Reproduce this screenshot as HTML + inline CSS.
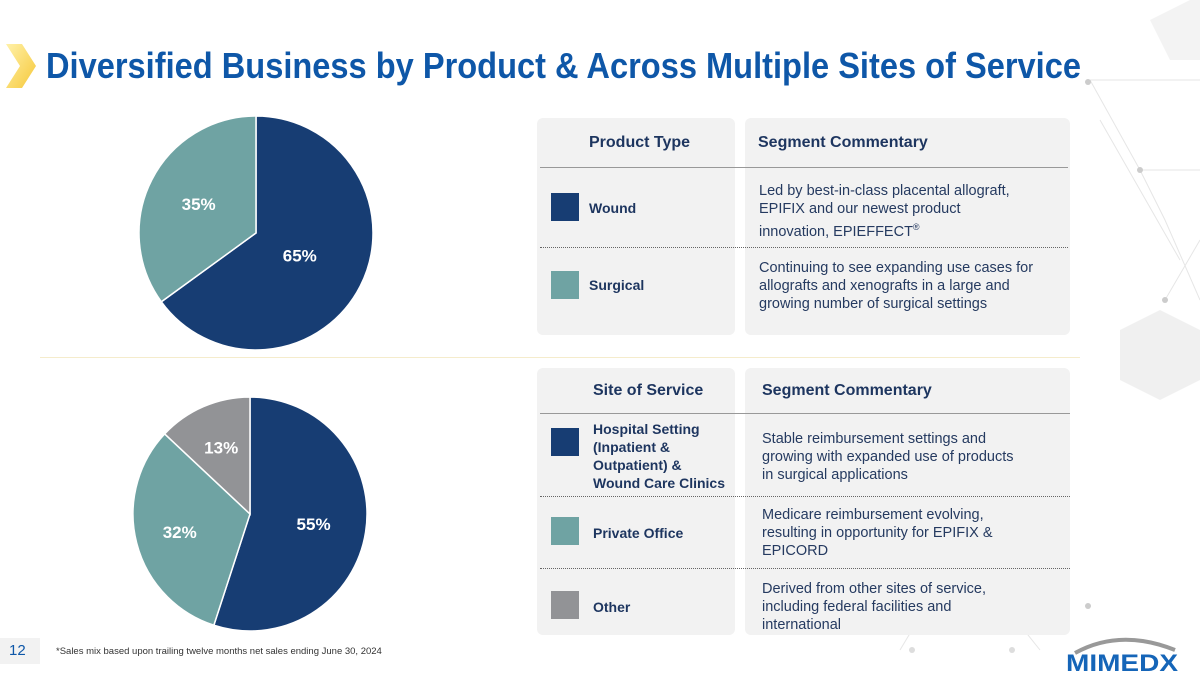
<!DOCTYPE html>
<html><head><meta charset="utf-8"><style>
body{margin:0;width:1200px;height:675px;background:#fff;position:relative;overflow:hidden;font-family:"Liberation Sans",sans-serif;color:#1d355f}
.abs{position:absolute}
.panel{position:absolute;background:#f2f2f2;border-radius:6px}
.h{position:absolute;font-weight:bold;font-size:16px;color:#1d355f}
.t{position:absolute;font-size:14.5px;line-height:18px;color:#253a60}
.sq{position:absolute;width:28px;height:28px}
.lbl{position:absolute;font-weight:bold;font-size:14px;line-height:18px;color:#1d355f}
.line{position:absolute;height:0;border-top:1px solid #999}
.dot{position:absolute;height:0;border-top:1px dotted #666}
</style></head><body>
<svg class="abs" style="left:0;top:0" width="1200" height="675">
<g stroke="#e6e6e6" fill="none" stroke-width="1">
<path d="M1090 80 L1140 170 L1200 170 M1140 170 L1165 220 L1200 300 M1090 80 L1200 80 M1165 300 L1200 240 M1100 120 L1180 260"/>
<path d="M900 650 L930 600 L1000 600 L1040 650 M1000 600 L1040 560"/>
</g>
<polygon points="1150,20 1190,0 1200,0 1200,60 1170,60" fill="#f3f3f3"/>
<polygon points="1120,330 1160,310 1200,330 1200,380 1160,400 1120,380" fill="#f0f0f0"/>
<circle cx="1088" cy="82" r="3" fill="#ccc"/><circle cx="1140" cy="170" r="3" fill="#ccc"/>
<circle cx="1165" cy="300" r="3" fill="#ccc"/><circle cx="1088" cy="606" r="3" fill="#ccc"/>
<circle cx="912" cy="650" r="3" fill="#ddd"/><circle cx="1012" cy="650" r="3" fill="#ddd"/>
</svg>
<svg class="abs" style="left:6;top:44px;left:6px" width="36" height="44">
<defs><linearGradient id="g" x1="0" y1="0" x2="1" y2="1"><stop offset="0" stop-color="#fff1a8"/><stop offset="1" stop-color="#f6c83a"/></linearGradient></defs>
<polygon points="0,0 16,0 30,22 16,44 0,44 14,22" fill="url(#g)"/>
</svg>
<svg class="abs" style="left:46px;top:40px" width="1040" height="50">
<text x="0" y="38" font-family="Liberation Sans" font-weight="bold" font-size="36" fill="#0e57a8" textLength="1035" lengthAdjust="spacingAndGlyphs">Diversified Business by Product &amp; Across Multiple Sites of Service</text>
</svg>

<svg id="pies" class="abs" style="left:0;top:0" width="520" height="675"></svg>
<div class="abs" style="left:40px;top:357px;width:1040px;border-top:1px solid #f5eccc"></div>

<div class="panel" style="left:537px;top:118px;width:198px;height:217px"></div>
<div class="panel" style="left:745px;top:118px;width:325px;height:217px"></div>
<div class="h" style="left:589px;top:134px">Product Type</div>
<div class="h" style="left:758px;top:134px">Segment Commentary</div>
<div class="line" style="left:540px;top:167px;width:528px"></div>
<div class="sq" style="left:551px;top:193px;background:#173d73"></div>
<div class="lbl" style="left:589px;top:199px">Wound</div>
<div class="t" style="left:759px;top:182px">Led by best-in-class placental allograft,<br>EPIFIX and our newest product<br>innovation, EPIEFFECT<sup style="font-size:9px">®</sup></div>
<div class="dot" style="left:540px;top:247px;width:528px"></div>
<div class="sq" style="left:551px;top:271px;background:#6fa3a3"></div>
<div class="lbl" style="left:589px;top:276px">Surgical</div>
<div class="t" style="left:759px;top:259px">Continuing to see expanding use cases for<br>allografts and xenografts in a large and<br>growing number of surgical settings</div>

<div class="panel" style="left:537px;top:368px;width:198px;height:267px"></div>
<div class="panel" style="left:745px;top:368px;width:325px;height:267px"></div>
<div class="h" style="left:593px;top:382px">Site of Service</div>
<div class="h" style="left:762px;top:382px">Segment Commentary</div>
<div class="line" style="left:540px;top:413px;width:530px"></div>
<div class="sq" style="left:551px;top:428px;background:#173d73"></div>
<div class="lbl" style="left:593px;top:420px">Hospital Setting<br>(Inpatient &amp;<br>Outpatient) &amp;<br>Wound Care Clinics</div>
<div class="t" style="left:762px;top:430px">Stable reimbursement settings and<br>growing with expanded use of products<br>in surgical applications</div>
<div class="dot" style="left:540px;top:496px;width:530px"></div>
<div class="sq" style="left:551px;top:517px;background:#6fa3a3"></div>
<div class="lbl" style="left:593px;top:524px">Private Office</div>
<div class="t" style="left:762px;top:506px">Medicare reimbursement evolving,<br>resulting in opportunity for EPIFIX &amp;<br>EPICORD</div>
<div class="dot" style="left:540px;top:568px;width:530px"></div>
<div class="sq" style="left:551px;top:591px;background:#929396"></div>
<div class="lbl" style="left:593px;top:598px">Other</div>
<div class="t" style="left:762px;top:580px">Derived from other sites of service,<br>including federal facilities and<br>international</div>

<div class="abs" style="left:0;top:638px;width:40px;height:26px;background:#f2f2f2"></div>
<div class="abs" style="left:9px;top:642px;font-size:15px;color:#0e57a8">12</div>
<div class="abs" style="left:56px;top:646px;font-size:9.5px;color:#333">*Sales mix based upon trailing twelve months net sales ending June 30, 2024</div>
<svg class="abs" style="left:1060px;top:628px" width="130" height="45">
<path d="M15 25 Q60 0 115 22" stroke="#999" stroke-width="4" fill="none"/>
<text x="6" y="43" font-family="Liberation Sans" font-weight="bold" font-size="24" fill="#1565b8" textLength="112" lengthAdjust="spacingAndGlyphs">MIMEDX</text>
</svg>

<script>
const productCats=["Wound","Surgical"];
const productVals=[65,35];
const siteCats=["Hospital","Private Office","Other"];
const siteVals=[55,32,13];
const colors1=["#173d73","#6fa3a3"];
const colors2=["#173d73","#6fa3a3","#929396"];
const svg=document.getElementById('pies');
const NS="http://www.w3.org/2000/svg";
function pie(cx,cy,r,vals,cols,name,labelPos){
  const tot=vals.reduce((a,b)=>a+b,0);let a0=-Math.PI/2;
  vals.forEach((v,i)=>{
    const a1=a0+v/tot*2*Math.PI;
    const p=document.createElementNS(NS,'path');
    const large=(a1-a0)>Math.PI?1:0;
    p.setAttribute('d',`M${cx},${cy} L${cx+r*Math.cos(a0)},${cy+r*Math.sin(a0)} A${r},${r} 0 ${large} 1 ${cx+r*Math.cos(a1)},${cy+r*Math.sin(a1)} Z`);
    p.setAttribute('fill',cols[i]);p.setAttribute('stroke','#fff');p.setAttribute('stroke-width','1.5');
    
    
    svg.appendChild(p);
    const mid=(a0+a1)/2, lr=r*labelPos[i];
    const t=document.createElementNS(NS,'text');
    t.setAttribute('x',cx+lr*Math.cos(mid));t.setAttribute('y',cy+lr*Math.sin(mid)+6);
    t.setAttribute('text-anchor','middle');t.setAttribute('font-family','Liberation Sans');
    t.setAttribute('font-weight','bold');t.setAttribute('font-size','17');t.setAttribute('fill','#fff');
    t.textContent=v+'%';
    
    
    svg.appendChild(t);
    a0=a1;
  });
}
pie(256,233,117,productVals,colors1,'product',[0.42,0.55]);
pie(250,514,117,siteVals,colors2,'site',[0.55,0.62,0.62]);
</script>
</body></html>
